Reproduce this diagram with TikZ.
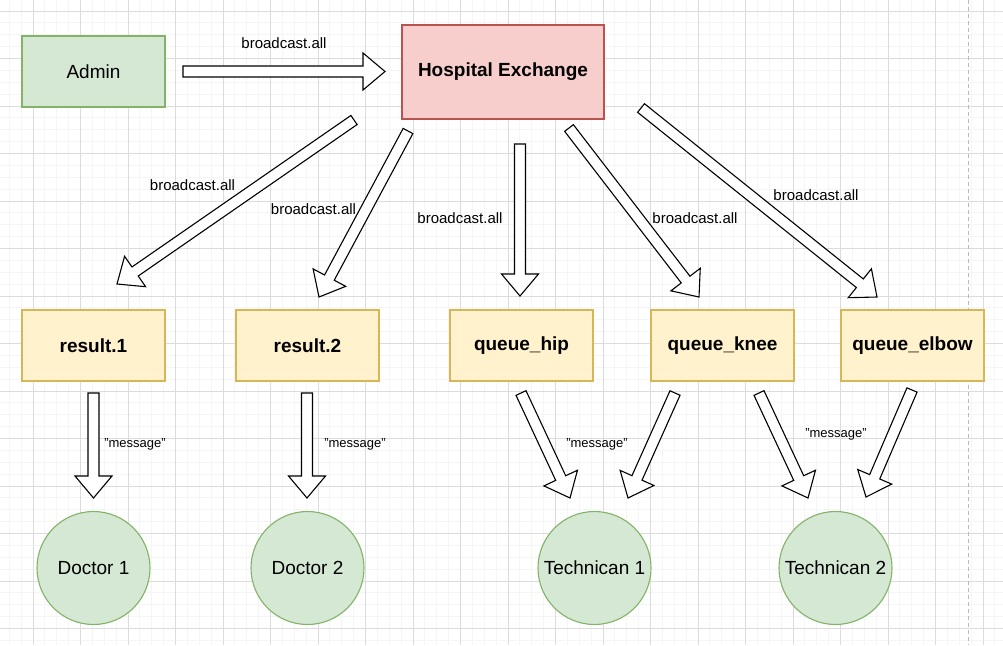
\documentclass[tikz,border=0pt]{standalone}
\usepackage{fontspec}
\setmainfont{Liberation Sans}
\usetikzlibrary{calc}
\definecolor{greenfill}{HTML}{D5E8D4}
\definecolor{greenline}{HTML}{82B366}
\definecolor{redfill}{HTML}{F8CECC}
\definecolor{redline}{HTML}{B85450}
\definecolor{yellowfill}{HTML}{FFF2CC}
\definecolor{yellowline}{HTML}{D6B656}
\definecolor{majorgrid}{HTML}{DCDCDC}
\definecolor{minorgrid}{HTML}{F5F5F5}
\tikzset{
  nodefont/.style={font=\fontsize{19}{23}\selectfont},
  greenbox/.style={nodefont, draw=greenline, fill=greenfill, line width=1.1pt, minimum width=143, minimum height=71},
  redbox/.style={nodefont, draw=redline, fill=redfill, line width=1.1pt, minimum width=202, minimum height=94, font=\fontsize{19}{23}\selectfont\bfseries},
  queuebox/.style={nodefont, draw=yellowline, fill=yellowfill, line width=1.1pt, minimum width=143, minimum height=71, font=\fontsize{19}{23}\selectfont\bfseries},
  clientcircle/.style={nodefont, circle, draw=greenline, fill=greenfill, line width=1.1pt, minimum size=113, inner sep=0pt},
  routelabel/.style={font=\fontsize{15}{18}\selectfont, inner sep=1pt},
  msglabel/.style={font=\fontsize{13}{15}\selectfont, inner sep=1pt},
  fatarrowline/.style={draw=black, fill=white, line width=1.1pt, line join=miter}
}
% hollow block arrow from #1 (tail) to #2 (tip)
\newcommand{\fatarrow}[2]{%
  \path ($(#2)!22pt!(#1)$) coordinate (fa-base);
  \draw[fatarrowline] ($(#1)!5.5pt!90:(#2)$) -- ($(fa-base)!5.5pt!90:(#2)$) -- ($(fa-base)!18.5pt!90:(#2)$) -- (#2)
    -- ($(fa-base)!18.5pt!-90:(#2)$) -- ($(fa-base)!5.5pt!-90:(#2)$) -- ($(#1)!5.5pt!-90:(#2)$) -- cycle;}
\begin{document}
\begin{tikzpicture}[x=1pt,y=1pt,yscale=-1,xscale=1]
\useasboundingbox (0,0) rectangle (1003,645);
\fill[white] (0,0) rectangle (1003,645);

%Grid
\foreach \i in {-3,...,82} \draw[minorgrid, line width=0.8pt] (33+\i*11.875,0) -- (33+\i*11.875,645);
\foreach \i in {-1,...,53} \draw[minorgrid, line width=0.8pt] (0,11+\i*11.875) -- (1003,11+\i*11.875);
\foreach \i in {-1,...,20} \draw[majorgrid, line width=0.9pt] (33+\i*47.5,0) -- (33+\i*47.5,645);
\foreach \i in {0,...,13} \draw[majorgrid, line width=0.9pt] (0,11+\i*47.5) -- (1003,11+\i*47.5);
%Page border
\draw[gray!55, line width=1pt, dash pattern=on 4pt off 3pt] (968,0) -- (968,645);

%Boxes
\node[greenbox] (admin) at (93.5,71.5) {Admin};
\node[redbox] (exchange) at (503,72) {Hospital Exchange};
\node[queuebox] (result1) at (93.5,345.5) {result.1};
\node[queuebox] (result2) at (307.5,345.5) {result.2};
\node[queuebox] (hip) at (521.5,345.5) {queue\_hip};
\node[queuebox] (knee) at (722.5,345.5) {queue\_knee};
\node[queuebox] (elbow) at (912.5,345.5) {queue\_elbow};

%Circles
\node[clientcircle] (doctor1) at (93.5,568) {Doctor 1};
\node[clientcircle] (doctor2) at (307.5,568) {Doctor 2};
\node[clientcircle] (tech1) at (594.5,568) {Technican 1};
\node[clientcircle] (tech2) at (835.5,568) {Technican 2};

%Block arrows
\foreach \n/\tx/\ty/\hx/\hy in {admin/183/71.5/385/71.5, res1/354/120/117/284, res2/408/131/319/297,
    hip/520/144/520/296, knee/569/128/699/297, elbow/641/108/877/297,
    doc1/93.5/393/93.5/498, doc2/307/393/307/498, hiptech/521/393/570/498,
    kneetech1/675/393/628/498, kneetech2/759/393/808/498, elbowtech/912/390/866/497}{
  \coordinate (\n-tail) at (\tx,\ty);
  \coordinate (\n-tip) at (\hx,\hy);
  \fatarrow{\n-tail}{\n-tip}
}

% Text Node
\node[routelabel] (lbl-admin) at (284,43) {broadcast.all};
\node[routelabel] (lbl-res1) at (192.5,185) {broadcast.all};
\node[routelabel] (lbl-res2) at (313.5,209) {broadcast.all};
\node[routelabel] (lbl-hip) at (460,218.5) {broadcast.all};
\node[routelabel] (lbl-knee) at (695,218.5) {broadcast.all};
\node[routelabel] (lbl-elbow) at (816,195.5) {broadcast.all};
\node[msglabel] (msg1) at (135,444) {"message"};
\node[msglabel] (msg2) at (355,444) {"message"};
\node[msglabel] (msg3) at (597,444) {"message"};
\node[msglabel] (msg4) at (836,434) {"message"};

\end{tikzpicture}
\end{document}
